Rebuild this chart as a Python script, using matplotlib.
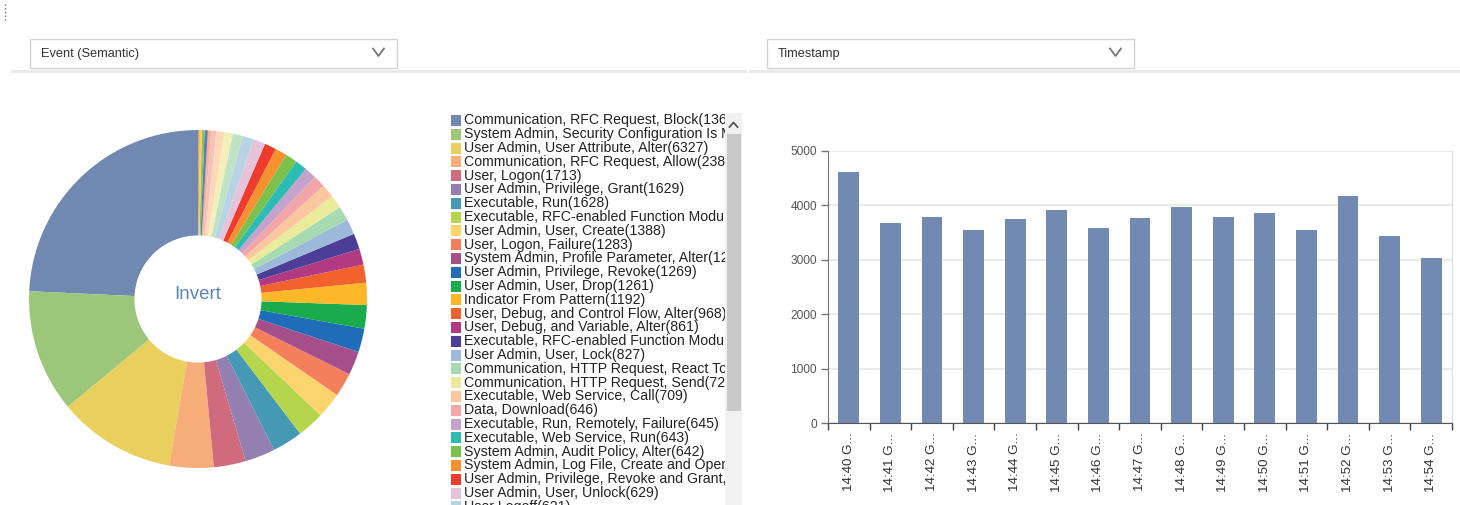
import numpy as np
import matplotlib.pyplot as plt
from matplotlib.patches import Rectangle

plt.rcParams['font.family'] = ['Liberation Sans', 'DejaVu Sans']

W, H = 1460, 505

# events by semantic type, largest first
event_names = [
    'Communication, RFC Request, Block',
    'System Admin, Security Configuration Is Modified',
    'User Admin, User Attribute, Alter',
    'Communication, RFC Request, Allow',
    'User, Logon',
    'User Admin, Privilege, Grant',
    'Executable, Run',
    'Executable, RFC-enabled Function Module, Call',
    'User Admin, User, Create',
    'User, Logon, Failure',
    'System Admin, Profile Parameter, Alter',
    'User Admin, Privilege, Revoke',
    'User Admin, User, Drop',
    'Indicator From Pattern',
    'User, Debug, and Control Flow, Alter',
    'User, Debug, and Variable, Alter',
    'Executable, RFC-enabled Function Module, Call, Failure',
    'User Admin, User, Lock',
    'Communication, HTTP Request, React To',
    'Communication, HTTP Request, Send',
    'Executable, Web Service, Call',
    'Data, Download',
    'Executable, Run, Remotely, Failure',
    'Executable, Web Service, Run',
    'System Admin, Audit Policy, Alter',
    'System Admin, Log File, Create and Open',
    'User Admin, Privilege, Revoke and Grant, Failure',
    'User Admin, User, Unlock',
    'User Logoff',
    'User, Password, Change',
    'Data, Upload',
    'Executable, Report, Run',
    'User Admin, User, Delete',
    'User, Logon, Locked',
    'System, Start',
    'Executable, Transaction, Start',
    'Data, Read, Failure',
    'System, Stop',
]
event_counts = [
    13650, 6610, 6327, 2384, 1713, 1629, 1628, 1452, 1388, 1283,
    1275, 1269, 1261, 1192, 968, 861, 845, 827, 768, 724,
    709, 646, 645, 643, 642, 636, 632, 629, 621, 535,
    448, 437, 268, 183, 176, 142, 118, 91,
]
event_colors = [
    '#7189b0', '#9cc77a', '#e9cf5d', '#f6ad78', '#d06a7d', '#957fb1',
    '#4599b4', '#b5d54c', '#fcd46d', '#f37f5d', '#a54e89', '#1f6db8',
    '#19ab4c', '#fdb82a', '#f2622f', '#b13a82', '#4c3e96', '#9cb9d9',
    '#a6dbb1', '#eaeb9b', '#fbc7a0', '#f2a6a7', '#c6a3cd', '#2dbbb5',
    '#7cc14b', '#f7912f', '#ed3b2d', '#e7c3da', '#b8d3e4', '#bfe3c4',
    '#f2f0b8', '#fdd9b8', '#f6c0c0', '#f9b38c', '#5a7fb8', '#8cc060',
    '#efd060', '#f4a050',
]

# events per minute
minutes = ['14:40', '14:41', '14:42', '14:43', '14:44', '14:45', '14:46', '14:47',
           '14:48', '14:49', '14:50', '14:51', '14:52', '14:53', '14:54']
minute_counts = [4613, 3682, 3792, 3540, 3743, 3914, 3577, 3767,
                 3976, 3792, 3853, 3553, 4166, 3430, 3025]
y_ticks = [0, 1000, 2000, 3000, 4000, 5000]

fig = plt.figure(figsize=(W / 100, H / 100), dpi=100)


def px_axes(x0, y0, x1, y1, **kw):
    # axes placed by pixel box, y measured from the top
    return fig.add_axes([x0 / W, 1 - y1 / H, (x1 - x0) / W, (y1 - y0) / H], **kw)


# page furniture: drop-downs, separators, scrollbar
bg = px_axes(0, 0, W, H)
bg.set_xlim(0, W)
bg.set_ylim(H, 0)
bg.axis('off')

bg.plot([5, 5], [4, 22], ls=':', color='#777777', lw=1)
for x0, title in [(30, 'Event (Semantic)'), (767, 'Timestamp')]:
    bg.add_patch(Rectangle((x0, 39), 367, 29, fc='white', ec='#d2d2d2', lw=1))
    bg.text(x0 + 11, 53.5, title, fontsize=9.2, color='#333333', va='center')
    bg.plot([x0 + 343, x0 + 348.5, x0 + 354], [48.5, 56, 48.5], color='#777777', lw=1.3)
bg.plot([12, 745], [70.5, 70.5], color='#e8e8e8', lw=2)
bg.plot([750, 1460], [70.5, 70.5], color='#e8e8e8', lw=2)

bg.add_patch(Rectangle((725, 113), 17, 392, fc='#f1f1f1', ec='none'))
bg.add_patch(Rectangle((726.5, 134), 14, 277, fc='#c9c9c9', ec='none'))
bg.plot([729.5, 733.5, 737.5], [127, 122.5, 127], color='#555555', lw=1.3)

# donut
pax = px_axes(28, 129, 368, 469)
pax.pie(event_counts, colors=event_colors, startangle=90, counterclock=True,
        radius=0.994, wedgeprops=dict(width=0.62, linewidth=0))
pax.set_xlim(-1, 1)
pax.set_ylim(-1, 1)
pax.text(0, 0.025, 'Invert', ha='center', va='center', fontsize=13.5, color='#5a86b8')

# legend list, clipped like a scrolling panel
leg = px_axes(448, 112, 725, 505)
leg.set_xlim(448, 725)
leg.set_ylim(505, 112)
leg.axis('off')
for i, (name, n, c) in enumerate(zip(event_names, event_counts, event_colors)):
    y = 120.5 + i * 13.8
    leg.add_patch(Rectangle((451, y - 5.5), 10, 11, fc=c, ec='none', clip_on=True))
    leg.text(464, y, f'{name}({n})', fontsize=10.2, color='#222222', va='center',
             clip_on=True)

# bars per minute
bax = px_axes(828, 151, 1452, 423)
x = np.arange(len(minutes))
bax.bar(x, minute_counts, width=0.5, color='#728ab1', zorder=2)
bax.set_xlim(-0.5, len(minutes) - 0.5)
bax.set_ylim(0, 5000)
bax.set_yticks(y_ticks)
bax.yaxis.grid(True, color='#e8e8e8', lw=1.3)
bax.set_axisbelow(True)
bax.spines['top'].set_visible(False)
bax.spines['left'].set_color('#777777')
bax.spines['bottom'].set_color('#555555')
bax.spines['right'].set_color('#dddddd')
bax.tick_params(axis='y', length=5, width=1, color='#777777', pad=3,
                labelsize=8.6, labelcolor='#555555')
bax.set_xticks(x)
bax.set_xticklabels([f'{m} G...' for m in minutes], rotation=90)
bax.set_xticks(np.arange(-0.5, len(minutes)), minor=True)
bax.tick_params(axis='x', which='major', length=0, pad=7, labelsize=9.6,
                labelcolor='#333333')
bax.tick_params(axis='x', which='minor', length=5, width=1, color='#444444')

fig.savefig('out.png', dpi=100)
